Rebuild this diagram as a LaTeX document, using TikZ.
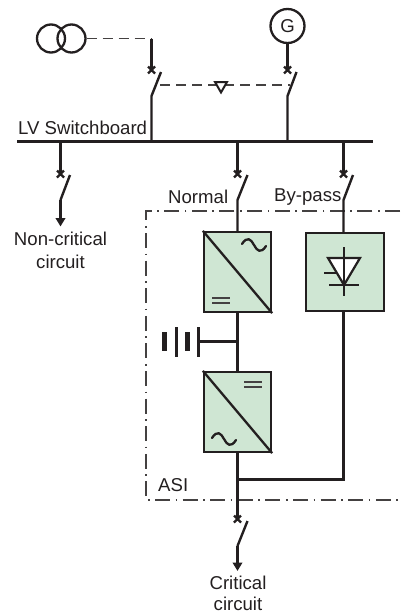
\documentclass[tikz,border=0pt]{standalone}
\usepackage{fontspec}
\setmainfont{Liberation Sans}
\usetikzlibrary{arrows.meta,shapes.misc,shapes.geometric}
\definecolor{ink}{HTML}{231F20}
\definecolor{boxgreen}{HTML}{CFE6D3}
\tikzset{
  x=1pt,y=-1pt,
  wire/.style={draw=ink,line width=2.4pt},
  bus/.style={draw=ink,line width=3pt},
  thin dash/.style={draw=ink!85,line width=1.2pt,dash pattern=on 10pt off 6pt},
  frame/.style={draw=ink!85,line width=1.2pt,dash pattern=on 15pt off 5.5pt on 1.6pt off 5.5pt},
  conv/.style={rectangle,draw=ink,line width=2.3pt,fill=boxgreen,inner sep=0pt,minimum width=67pt,minimum height=80pt},
  brk/.style={cross out,draw=ink,line width=2.2pt,minimum size=7pt,inner sep=0pt,outer sep=0pt},
  lbl/.style={inner sep=0pt,text=ink,font=\fontsize{18.6}{22}\selectfont},
  ring/.style={circle,draw=ink,line width=2.3pt,inner sep=0pt},
  endarrow/.style={-{Triangle[length=8.5pt,width=9.5pt]}},
}
\newcommand{\tildemark}[2]{\draw[ink,line width=2.3pt,line cap=round] (#1-12,#2-1) .. controls (#1-7,#2-9) and (#1-3,#2-6) .. (#1,#2) .. controls (#1+3,#2+6) and (#1+7,#2+9) .. (#1+12,#2+1);}
\begin{document}
\begin{tikzpicture}
\useasboundingbox (0,0) rectangle (400,613);
% frame
\draw[frame] (400,211) -- (146,211) -- (146,500) -- (400,500);
% coordinates
\coordinate (t1) at (151.5,38.5);
\coordinate (s1a) at (151.5,96);
\coordinate (s1b) at (161,72);
\coordinate (b1) at (151.5,141);
\coordinate (s2a) at (287.5,96);
\coordinate (s2b) at (296.5,72);
\coordinate (b2) at (287.5,141);
\coordinate (busl) at (17,141.5);
\coordinate (busr) at (373,141.5);
\coordinate (b3) at (60.5,141);
\coordinate (s3a) at (60.5,200);
\coordinate (s3b) at (70,175);
\coordinate (e3) at (60.5,226.5);
\coordinate (b4) at (237.5,141);
\coordinate (s4a) at (237.5,200);
\coordinate (s4b) at (247.5,175);
\coordinate (b5) at (343.5,141);
\coordinate (s5a) at (343.5,200);
\coordinate (s5b) at (353,175);
\coordinate (tap) at (237.5,341.5);
\coordinate (join) at (237.5,479.5);
\coordinate (corner) at (343.5,479.5);
\coordinate (s6a) at (237.5,546);
\coordinate (s6b) at (247.5,521);
\coordinate (e6) at (237.5,571);
\coordinate (m1) at (160,85);
\coordinate (m2) at (290,85);
% sources
\node[ring,minimum size=28pt] (trL) at (51,38.5) {};
\node[ring,minimum size=28pt] (trR) at (71.5,38.5) {};
\node[ring,minimum size=34pt,font=\fontsize{18.6}{22}\selectfont,text=ink] (gen) at (287.5,26) {G};
% breakers
\node[brk] (x1) at (151.5,70) {};
\node[brk] (x2) at (287.5,70) {};
\node[brk] (x3) at (60.5,174) {};
\node[brk] (x4) at (237.5,174) {};
\node[brk] (x5) at (343.5,174) {};
\node[brk] (x6) at (237.5,519) {};
% boxes
\node[conv] (rect) at (237.5,272) {};
\node[conv] (inv) at (237.5,412) {};
\node[conv,minimum width=78pt,minimum height=78pt] (byp) at (345,272) {};
% wires
\draw[thin dash] (trR.east) -- (t1);
\draw[wire] (t1) -- (x1.center);
\draw[wire] (s1b) -- (s1a) -- (b1);
\draw[wire] (gen) -- (x2.center);
\draw[wire] (s2b) -- (s2a) -- (b2);
\draw[bus] (busl) -- (busr);
\draw[wire] (b3) -- (x3.center);
\draw[wire] (s3b) -- (s3a);
\draw[wire,endarrow] (s3a) -- (e3);
\draw[wire] (b4) -- (x4.center);
\draw[wire] (s4b) -- (s4a) -- (rect.north -| s4a);
\draw[wire] (b5) -- (x5.center);
\draw[wire] (s5b) -- (s5a) -- (s5a |- byp.north);
\draw[wire] (rect.south -| tap) -- (inv.north -| tap);
\draw[wire] (inv.south -| join) -- (x6.center);
\draw[wire] (byp.south -| corner) -- (corner) -- (join);
\draw[wire] (s6b) -- (s6a);
\draw[wire,endarrow] (s6a) -- (e6);
% interlock
\draw[thin dash] (m1) -- (m2);
\node[isosceles triangle,isosceles triangle apex angle=60,shape border rotate=-90,draw=ink,line width=2pt,fill=white,inner sep=0pt,minimum height=10pt,minimum width=12pt] (lock) at (221,85.5) {};
% converter marks
\draw[ink,line width=2.3pt] (rect.north west) -- (rect.south east);
\draw[ink,line width=2.3pt] (inv.north west) -- (inv.south east);
\tildemark{254}{245}
\tildemark{224}{439}
\draw[ink!85,line width=1.7pt] (212,298) -- (230,298) (212,303) -- (230,303);
\draw[ink!85,line width=1.7pt] (244,382) -- (262,382) (244,387) -- (262,387);
% diode
\draw[fill=white,draw=ink,line width=2.2pt] (328,258) -- (360,258) -- (344,285) -- cycle;
\draw[ink,line width=2.2pt] (344,247) -- (344,296) (329,285) -- (359,285) (324,273) -- (337,273);
% battery
\draw[wire] (tap) -- (198,341.5);
\draw[ink,line width=2.4pt] (198.5,327) -- (198.5,357) (176.5,327) -- (176.5,357);
\draw[ink,line width=5pt] (187.5,332) -- (187.5,351) (164.5,332) -- (164.5,351);
% labels
\node[lbl,anchor=west] (lv) at (18,128) {LV Switchboard};
\node[lbl] (nc1) at (60.5,239) {Non-critical};
\node[lbl] (nc2) at (60.5,262) {circuit};
\node[lbl,anchor=west] (nm) at (168,197) {Normal};
\node[lbl,anchor=west] (bp) at (274,197) {By-pass};
\node[lbl,anchor=west] (asi) at (158,485) {ASI};
\node[lbl] (c1) at (238,583) {Critical};
\node[lbl] (c2) at (238,603.5) {circuit};
\end{tikzpicture}
\end{document}
